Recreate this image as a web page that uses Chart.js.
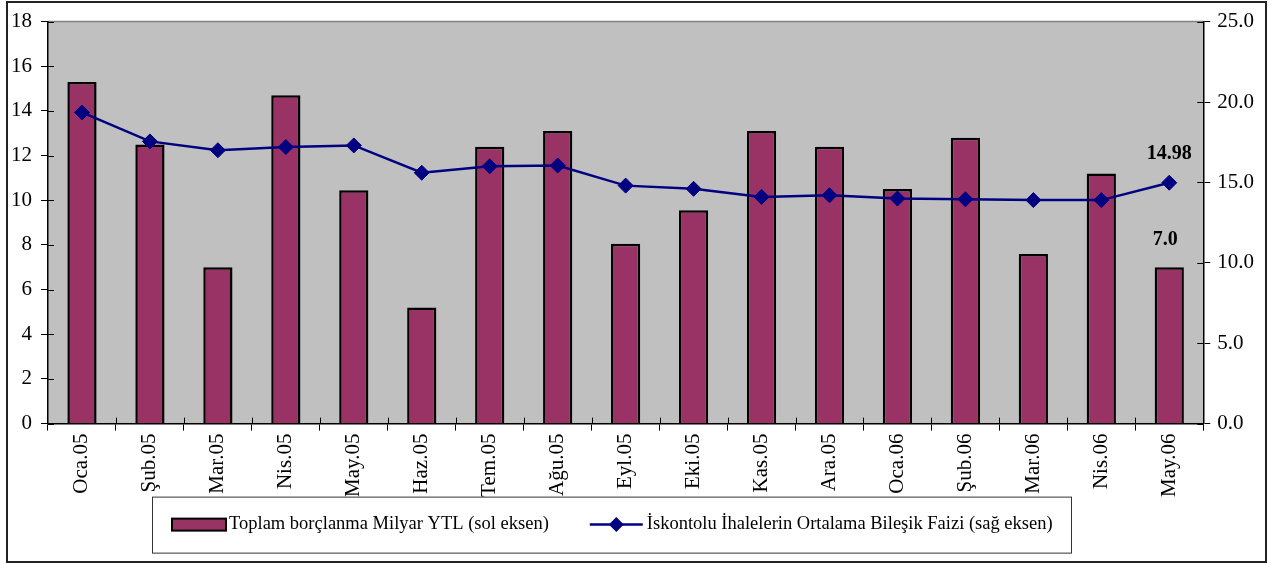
<!DOCTYPE html>
<html>
<head>
<meta charset="utf-8">
<script src="https://cdn.jsdelivr.net/npm/chart.js@4.4.1/dist/chart.umd.min.js"></script>
<style>
  html, body { margin: 0; padding: 0; background: #fff; }
</style>
</head>
<body>
<canvas id="borclanma-chart" width="1274" height="563"></canvas>
<script>
// data
const months = ['Oca.05', 'Şub.05', 'Mar.05', 'Nis.05', 'May.05', 'Haz.05', 'Tem.05', 'Ağu.05', 'Eyl.05',
                'Eki.05', 'Kas.05', 'Ara.05', 'Oca.06', 'Şub.06', 'Mar.06', 'Nis.06', 'May.06'];
const debtValues = [15.3, 12.5, 7.0, 14.7, 10.45, 5.2, 12.4, 13.1, 8.05, 9.55, 13.1, 12.4, 10.5, 12.8, 7.6, 11.2, 7.0];
const rateValues = [19.35, 17.55, 17.0, 17.2, 17.3, 15.6, 16.0, 16.05, 14.8, 14.6, 14.1, 14.2, 14.0, 13.95, 13.9, 13.9, 14.98];
const seriesNames = ['Toplam borçlanma Milyar YTL (sol eksen)', 'İskontolu İhalelerin Ortalama Bileşik Faizi (sağ eksen)'];
const leftTicks = [0, 2, 4, 6, 8, 10, 12, 14, 16, 18];
const rightTicks = [0, 5, 10, 15, 20, 25];

// Global Options
Chart.defaults.font.family = "'Liberation Serif', 'Times New Roman', serif";
Chart.defaults.font.size = 21;
Chart.defaults.color = '#000';

const BAR_COLOR = '#993366';
const LINE_COLOR = '#000080';

// grey plot area + outer frame
const backgroundPlugin = {
  id: 'plotBackground',
  beforeDraw(chart) {
    const { ctx, chartArea: a } = chart;
    ctx.save();
    ctx.fillStyle = '#C0C0C0';
    ctx.fillRect(a.left, a.top, a.right - a.left, a.bottom - a.top);
    ctx.strokeStyle = '#808080';
    ctx.lineWidth = 1.5;
    ctx.beginPath();
    ctx.moveTo(a.left, a.top);
    ctx.lineTo(a.right, a.top);
    ctx.stroke();
    ctx.restore();
  },
  afterDraw(chart) {
    const ctx = chart.ctx;
    ctx.save();
    ctx.strokeStyle = '#222';
    ctx.lineWidth = 2;
    ctx.strokeRect(7, 2, chart.width - 15, chart.height - 3);
    ctx.restore();
  }
};

// tick marks that cross the axis (inner half)
const innerTicksPlugin = {
  id: 'innerTicks',
  beforeDatasetsDraw(chart) {
    const { ctx, chartArea: a, scales } = chart;
    ctx.save();
    ctx.strokeStyle = '#000';
    ctx.lineWidth = 1;
    ctx.beginPath();
    scales.y.ticks.forEach(t => {
      const y = Math.round(scales.y.getPixelForValue(t.value)) + 0.5;
      ctx.moveTo(a.left, y); ctx.lineTo(a.left + 6, y);
    });
    scales.y1.ticks.forEach(t => {
      const y = Math.round(scales.y1.getPixelForValue(t.value)) + 0.5;
      ctx.moveTo(a.right - 6, y); ctx.lineTo(a.right, y);
    });
    const step = (a.right - a.left) / months.length;
    for (let i = 1; i < months.length; i++) {
      const x = Math.round(scales.x.getPixelForValue(i) - step / 2) + 0.5;
      ctx.moveTo(x, a.bottom - 6); ctx.lineTo(x, a.bottom);
    }
    ctx.stroke();
    ctx.restore();
  }
};

// last value labels
const lastValuePlugin = {
  id: 'lastValue',
  afterDatasetsDraw(chart) {
    const ctx = chart.ctx;
    const bar = chart.getDatasetMeta(0).data[debtValues.length - 1];
    const pt = chart.getDatasetMeta(1).data[rateValues.length - 1];
    ctx.save();
    ctx.font = "bold 20px 'Liberation Serif'";
    ctx.fillStyle = '#000';
    ctx.textAlign = 'center';
    ctx.textBaseline = 'alphabetic';
    ctx.fillText(debtValues[debtValues.length - 1].toFixed(1), bar.x - 4, bar.y - 22);
    ctx.fillText(rateValues[rateValues.length - 1].toFixed(2), pt.x, pt.y - 24);
    ctx.restore();
  }
};

// boxed legend under the axis labels
const boxLegendPlugin = {
  id: 'boxLegend',
  afterDraw(chart) {
    const ctx = chart.ctx;
    const box = { left: 152, top: chart.chartArea.bottom + 73, width: 919, height: 56 };
    const cy = box.top + box.height / 2;
    ctx.save();
    ctx.fillStyle = '#fff';
    ctx.fillRect(box.left, box.top, box.width, box.height);
    ctx.strokeStyle = '#333';
    ctx.lineWidth = 1;
    ctx.strokeRect(box.left + 0.5, box.top + 0.5, box.width, box.height);

    ctx.font = "18.5px 'Liberation Serif'";
    ctx.textBaseline = 'middle';
    ctx.fillStyle = '#000';
    let x = box.left + 20;
    // bar symbol
    ctx.fillStyle = BAR_COLOR;
    ctx.fillRect(x, cy - 6, 54, 12);
    ctx.strokeStyle = '#000';
    ctx.lineWidth = 2;
    ctx.strokeRect(x, cy - 6, 54, 12);
    ctx.fillStyle = '#000';
    ctx.fillText(seriesNames[0], x + 57, cy);
    x += 57 + ctx.measureText(seriesNames[0]).width + 41;
    // line symbol
    ctx.strokeStyle = LINE_COLOR;
    ctx.lineWidth = 2.5;
    ctx.beginPath();
    ctx.moveTo(x, cy); ctx.lineTo(x + 53, cy);
    ctx.stroke();
    ctx.fillStyle = LINE_COLOR;
    ctx.beginPath();
    ctx.moveTo(x + 26.5, cy - 7.5);
    ctx.lineTo(x + 34, cy);
    ctx.lineTo(x + 26.5, cy + 7.5);
    ctx.lineTo(x + 19, cy);
    ctx.closePath();
    ctx.fill();
    ctx.fillStyle = '#000';
    ctx.fillText(seriesNames[1], x + 57, cy);
    ctx.restore();
  }
};

const chartData = {
  labels: months,
  datasets: [
    {
      type: 'bar',
      label: seriesNames[0],
      data: debtValues,
      yAxisID: 'y',
      backgroundColor: BAR_COLOR,
      borderColor: '#000',
      borderWidth: 2.5,
      barPercentage: 0.43,
      categoryPercentage: 1,
      order: 2
    },
    {
      type: 'line',
      label: seriesNames[1],
      data: rateValues,
      yAxisID: 'y1',
      borderColor: LINE_COLOR,
      borderWidth: 2.5,
      backgroundColor: LINE_COLOR,
      pointStyle: 'rectRot',
      pointRadius: 7.5,
      pointBorderWidth: 1,
      pointBackgroundColor: LINE_COLOR,
      tension: 0,
      order: 1
    }
  ]
};

const chartConfig = {
  data: chartData,
  plugins: [backgroundPlugin, innerTicksPlugin, lastValuePlugin, boxLegendPlugin],
  options: {
    responsive: false,
    animation: false,
    layout: { padding: { left: 2, right: 13, top: 20, bottom: 63 } },
    plugins: {
      legend: { display: false },
      tooltip: { enabled: false }
    },
    scales: {
      x: {
        offset: true,
        grid: { offset: true, drawOnChartArea: false, drawTicks: true, tickLength: 7, color: '#000', lineWidth: 1 },
        border: { display: true, color: '#000', width: 1.5 },
        ticks: { minRotation: 90, maxRotation: 90, padding: 3, autoSkip: false }
      },
      y: {
        position: 'left',
        min: leftTicks[0],
        max: leftTicks[leftTicks.length - 1],
        afterBuildTicks: s => { s.ticks = leftTicks.map(v => ({ value: v })); },
        grid: { drawOnChartArea: false, drawTicks: true, tickLength: 7, color: '#000', lineWidth: 1 },
        border: { display: true, color: '#000', width: 1.5 },
        ticks: { padding: 9 }
      },
      y1: {
        position: 'right',
        min: rightTicks[0],
        max: rightTicks[rightTicks.length - 1],
        afterBuildTicks: s => { s.ticks = rightTicks.map(v => ({ value: v })); },
        grid: { drawOnChartArea: false, drawTicks: true, tickLength: 7, color: '#000', lineWidth: 1 },
        border: { display: true, color: '#000', width: 1.5 },
        ticks: { padding: 7, callback: v => Number(v).toFixed(1) }
      }
    }
  }
};

const ctx = document.getElementById('borclanma-chart').getContext('2d');
const borcChart = new Chart(ctx, chartConfig);
</script>
</body>
</html>
